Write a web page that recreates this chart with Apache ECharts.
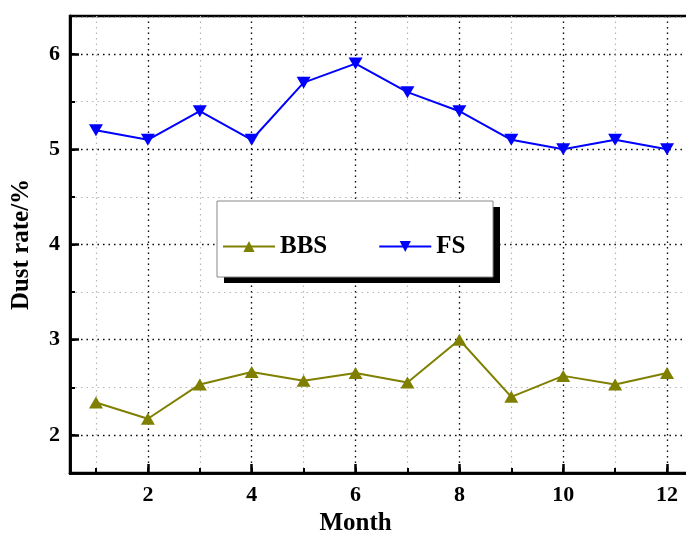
<!DOCTYPE html>
<html>
<head>
<meta charset="utf-8">
<script src="https://cdn.jsdelivr.net/npm/echarts@6/dist/echarts.min.js"></script>
<style>
  html, body { margin: 0; padding: 0; background: #fff; }
  #chart { width: 686px; height: 533px; }
</style>
</head>
<body>
<div id="chart"></div>
<script>
// data
const months = [1, 2, 3, 4, 5, 6, 7, 8, 9, 10, 11, 12]
const bbs = [2.34, 2.17, 2.53, 2.66, 2.57, 2.65, 2.55, 3.0, 2.40, 2.62, 2.53, 2.65]
const fs = [5.2, 5.1, 5.4, 5.1, 5.7, 5.9, 5.6, 5.4, 5.1, 5.0, 5.1, 5.0]
const seriesNames = ['BBS', 'FS']

const font = '"Liberation Serif", "Times New Roman", serif'
const pairs = (ys) => months.map((m, i) => [m, ys[i]])

const chart = echarts.init(document.getElementById('chart'), null, { renderer: 'canvas' })

// minor axis: every month / every 0.5, grey grid + short ticks
// major axis: every 2 months / every 1, dark grid + long ticks + labels
const minorGrid = { show: true, lineStyle: { color: '#b5b5b5', width: 1.2, type: [1.5, 4] } }
const majorGrid = { show: true, lineStyle: { color: '#111', width: 1.3, type: [1.5, 4] } }

// legend frame (box + black drop shadow)
const box = { x: 217, y: 201, width: 276, height: 76 }

const options = {
  backgroundColor: '#fff',
  animation: false,
  grid: {
    left: 70, right: -7, top: 16, bottom: 60,
    outerBoundsMode: 'none',
    show: true, borderColor: '#000', borderWidth: 2.5, backgroundColor: 'transparent'
  },
  graphic: [{
    type: 'rect', z: 3,
    shape: { x: box.x + 7, y: box.y + 6, width: box.width, height: box.height },
    style: { fill: '#000' }
  }, {
    type: 'rect', z: 3,
    shape: { x: box.x, y: box.y, width: box.width, height: box.height },
    style: { fill: '#fff', stroke: '#888', lineWidth: 1 }
  }],
  legend: {
    data: seriesNames,
    left: box.x, top: box.y,
    orient: 'horizontal',
    padding: [33, 26, 17, 5],
    itemWidth: 52, itemHeight: 14, itemGap: 51,
    z: 10,
    textStyle: { fontFamily: font, fontWeight: 'bold', fontSize: 25, color: '#000' }
  },
  xAxis: [{
    type: 'value', min: 0.5, max: 12.5, minInterval: 1, maxInterval: 1,
    position: 'bottom',
    axisLine: { show: true, lineStyle: { color: '#000', width: 2.5 } },
    axisTick: { show: true, inside: true, length: 5, lineStyle: { color: '#000', width: 2 } },
    axisLabel: { show: false },
    splitLine: minorGrid
  }, {
    type: 'value', min: 0.5, max: 12.5, minInterval: 2, maxInterval: 2,
    position: 'bottom',
    name: 'Month', nameLocation: 'middle', nameGap: 36,
    nameTextStyle: { fontFamily: font, fontWeight: 'bold', fontSize: 25, color: '#000', padding: [0, 52, 0, 0] },
    axisLine: { show: true, lineStyle: { color: '#000', width: 2.5 } },
    axisTick: { show: true, inside: true, length: 9, lineStyle: { color: '#000', width: 2.5 } },
    axisLabel: {
      showMinLabel: false, showMaxLabel: false, margin: 11,
      fontFamily: font, fontWeight: 'bold', fontSize: 22, color: '#000'
    },
    splitLine: majorGrid
  }],
  yAxis: [{
    type: 'value', min: 1.6, max: 6.4, minInterval: 0.5, maxInterval: 0.5,
    position: 'left',
    axisLine: { show: true, lineStyle: { color: '#000', width: 2.5 } },
    axisTick: { show: true, inside: true, length: 5, lineStyle: { color: '#000', width: 2 } },
    axisLabel: { show: false },
    splitLine: minorGrid
  }, {
    type: 'value', min: 1.6, max: 6.4, minInterval: 1, maxInterval: 1,
    position: 'left',
    name: 'Dust rate/%', nameLocation: 'middle', nameGap: 36,
    nameTextStyle: { fontFamily: font, fontWeight: 'bold', fontSize: 25, color: '#000' },
    axisLine: { show: true, lineStyle: { color: '#000', width: 2.5 } },
    axisTick: { show: true, inside: true, length: 9, lineStyle: { color: '#000', width: 2.5 } },
    axisLabel: {
      showMinLabel: false, showMaxLabel: false, margin: 10,
      fontFamily: font, fontWeight: 'bold', fontSize: 22, color: '#000'
    },
    splitLine: majorGrid
  }],
  series: [{
    name: seriesNames[0],
    type: 'line',
    xAxisIndex: 0, yAxisIndex: 0,
    data: pairs(bbs),
    symbol: 'triangle', symbolSize: [14, 12],
    itemStyle: { color: '#808000' },
    lineStyle: { color: '#808000', width: 2 },
    z: 5
  }, {
    name: seriesNames[1],
    type: 'line',
    xAxisIndex: 0, yAxisIndex: 0,
    data: pairs(fs),
    symbol: 'triangle', symbolRotate: 180, symbolSize: [14, 12],
    itemStyle: { color: '#0000ff' },
    lineStyle: { color: '#0000ff', width: 2 },
    z: 5
  }]
}

chart.setOption(options)
</script>
</body>
</html>
